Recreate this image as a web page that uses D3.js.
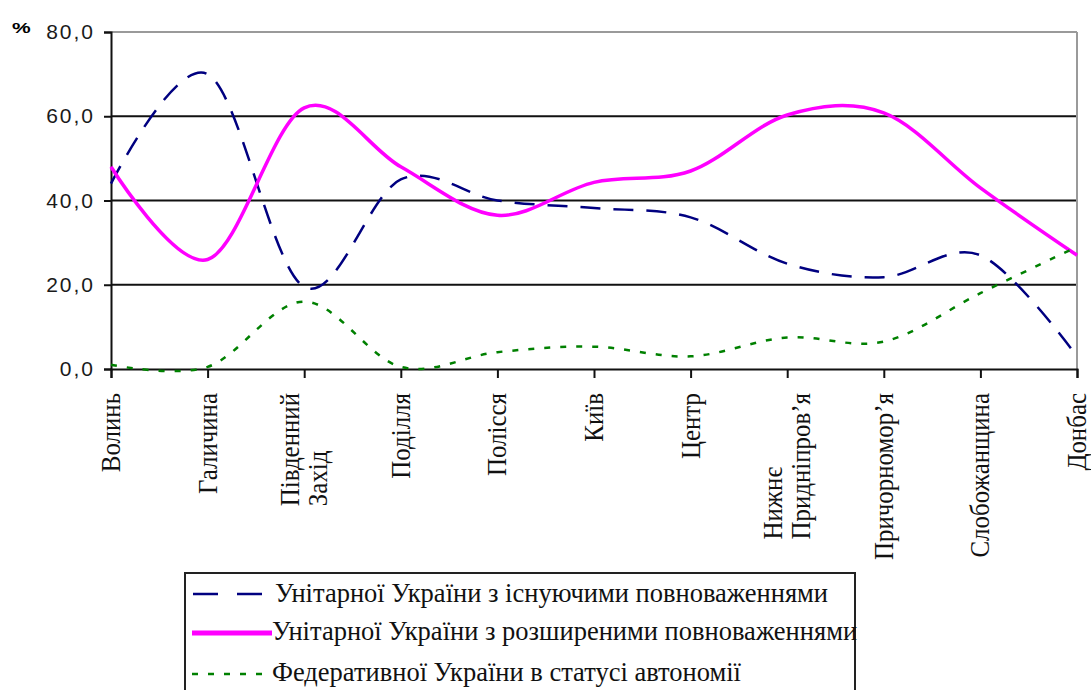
<!DOCTYPE html>
<html>
<head>
<meta charset="utf-8">
<script src="https://cdn.jsdelivr.net/npm/d3@7"></script>
<style>
  body { margin: 0; background: #fff; }
  svg { display: block; }
</style>
</head>
<body>
<script>
// regions along the x axis ("\n" = line break in the rotated label)
const categories = [
  "Волинь", "Галичина", "Південний\nЗахід", "Поділля", "Полісся", "Київ",
  "Центр", "Нижнє\nПридніпров’я", "Причорномор’я", "Слобожанщина", "Донбас"
]

// % of respondents
const existingPowers = [44, 70, 19.5, 45, 40, 38.2, 36, 25, 21.8, 27, 3]
const extendedPowers = [48, 26, 62, 48, 36.5, 44.3, 47, 60.3, 60.8, 43, 27]
const federalAutonomy = [1, 0.5, 16, 0.5, 4, 5.3, 3, 7.5, 6.5, 18, 29]

const seriesNames = [
  "Унітарної України з існуючими повноваженнями",
  "Унітарної України з розширеними повноваженнями",
  "Федеративної України в статусі автономії"
]

const yTicks = [0, 20, 40, 60, 80]

const series = [
  {name: seriesNames[0], values: existingPowers, color: "#000080", width: 2.5, dash: "20,13", legendDash: "25,19"},
  {name: seriesNames[1], values: extendedPowers, color: "#ff00ff", width: 3.5, dash: null, legendDash: null},
  {name: seriesNames[2], values: federalAutonomy, color: "#008000", width: 2.5, dash: "6,10", legendDash: "6,10"}
]

const SERIF = "Liberation Serif"
const SANS = "Liberation Sans"

const W = 1091, H = 690
const plot = {left: 111, right: 1077, top: 32, bottom: 369}

const svg = d3.select("body").append("svg")
  .attr("width", W)
  .attr("height", H)

const x = d3.scalePoint().domain(categories).range([plot.left, plot.right])
const y = d3.scaleLinear().domain([0, 80]).range([plot.bottom, plot.top])

// gridlines + plot border (top/right are grey in the original)
svg.append("g").selectAll("line")
  .data(yTicks.filter(d => d > 0))
  .join("line")
  .attr("x1", plot.left).attr("x2", plot.right)
  .attr("y1", d => y(d)).attr("y2", d => y(d))
  .attr("stroke", d => d == 80 ? "#9a9a9a" : "#111")
  .attr("stroke-width", 2)

svg.append("line")
  .attr("x1", plot.right).attr("x2", plot.right)
  .attr("y1", plot.top).attr("y2", plot.bottom)
  .attr("stroke", "#9a9a9a").attr("stroke-width", 2)

// y axis
const yAxis = svg.append("g")
  .attr("transform", `translate(${plot.left},0)`)
  .call(d3.axisLeft(y).tickValues(yTicks).tickSize(7).tickPadding(9)
    .tickFormat(d => d.toFixed(1).replace(".", ",")))
yAxis.select(".domain").attr("stroke", "#111").attr("stroke-width", 2)
yAxis.selectAll(".tick line").attr("stroke", "#111").attr("stroke-width", 2)
yAxis.selectAll(".tick text")
  .style("font-family", SANS)
  .style("font-size", "21px")
  .style("letter-spacing", "2px")
  .attr("fill", "#1a1a1a")

svg.append("text")
  .attr("transform", "translate(12,33) scale(1.5,1)")
  .style("font-family", SANS)
  .style("font-size", "14px")
  .style("font-weight", "bold")
  .text("%")

// x axis
const xAxis = svg.append("g")
  .attr("transform", `translate(0,${plot.bottom})`)
  .call(d3.axisBottom(x).tickSize(9).tickFormat(""))
xAxis.select(".domain").attr("stroke", "#111").attr("stroke-width", 2)
xAxis.selectAll(".tick line").attr("stroke", "#111").attr("stroke-width", 2)

// rotated category labels, multi-line ones left-aligned within the block
const labelTop = 393
const labelGroups = svg.append("g").selectAll("g")
  .data(categories)
  .join("g")
  .attr("transform", d => `translate(${x(d)},${labelTop}) rotate(-90) scale(0.89,1)`)

labelGroups.each(function(cat) {
  const g = d3.select(this)
  const lines = cat.split("\n")
  const n = lines.length
  const texts = lines.map((line, i) => g.append("text")
    .attr("y", 9 + (i - (n - 1) / 2) * 28)
    .attr("text-anchor", "start")
    .style("font-family", SERIF)
    .style("font-size", "28px")
    .attr("fill", "#111")
    .text(line))
  const maxLen = d3.max(texts, t => t.node().getComputedTextLength())
  texts.forEach(t => t.attr("x", -maxLen))
})

// series lines
const line = d3.line()
  .x((d, i) => x(categories[i]))
  .y(d => y(d))
  .curve(d3.curveCatmullRom.alpha(0))

svg.append("g").selectAll("path")
  .data(series)
  .join("path")
  .attr("d", d => line(d.values))
  .attr("fill", "none")
  .attr("stroke", d => d.color)
  .attr("stroke-width", d => d.width)
  .attr("stroke-dasharray", d => d.dash)

// legend (box runs off the bottom edge like the original)
const legend = svg.append("g")
legend.append("rect")
  .attr("x", 185).attr("y", 573)
  .attr("width", 670).attr("height", 140)
  .attr("fill", "#fff")
  .attr("stroke", "#222").attr("stroke-width", 2)

const legendRows = [
  {x1: 193, x2: 262, ly: 594, tx: 275, ty: 602},
  {x1: 192, x2: 272, ly: 633, tx: 272, ty: 640},
  {x1: 192, x2: 270, ly: 674, tx: 272, ty: 681}
]

series.forEach((s, i) => {
  const r = legendRows[i]
  legend.append("line")
    .attr("x1", r.x1).attr("x2", r.x2)
    .attr("y1", r.ly).attr("y2", r.ly)
    .attr("stroke", s.color)
    .attr("stroke-width", i == 1 ? 5 : 2.5)
    .attr("stroke-dasharray", s.legendDash)
  legend.append("text")
    .attr("x", r.tx).attr("y", r.ty)
    .style("font-family", SERIF)
    .style("font-size", "26.5px")
    .attr("fill", "#111")
    .text(s.name)
})
</script>
</body>
</html>
